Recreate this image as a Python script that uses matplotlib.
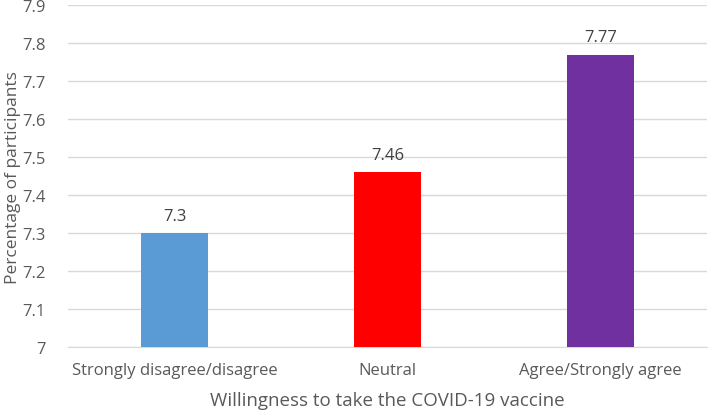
import numpy as np
from matplotlib import pyplot as plt
from matplotlib.ticker import FuncFormatter

plt.rcParams['font.family'] = ['Open Sans', 'DejaVu Sans']

categories = ['Strongly disagree/disagree', 'Neutral', 'Agree/Strongly agree']
values = [7.3, 7.46, 7.77]
labels = ['7.3', '7.46', '7.77']
colors = ['#5B9BD5', '#FF0000', '#7030A0']

fig = plt.figure(figsize=(7.09, 4.14), dpi=100)
ax = fig.add_axes([0.096, 0.159, 0.901, 0.826])

x = np.arange(len(categories))
ax.bar(x, values, width=0.315, color=colors, zorder=3)
for xi, v, lab in zip(x, values, labels):
    ax.text(xi, v + 0.025, lab, ha='center', va='bottom', fontsize=12, color='#404040')

ax.set_xlim(-0.5, 2.5)
ax.set_ylim(7, 7.9)
ax.set_yticks(np.arange(7, 7.91, 0.1))
ax.yaxis.set_major_formatter(FuncFormatter(lambda v, p: '{:g}'.format(round(v, 1))))
ax.set_xticks(x)
ax.set_xticklabels(categories)
ax.tick_params(axis='both', length=0, labelsize=12, colors='#595959')
ax.tick_params(axis='y', pad=16)
ax.tick_params(axis='x', pad=11)
ax.grid(axis='y', color='#D9D9D9', linewidth=1, zorder=0)
for s in ['top', 'right', 'left']:
    ax.spines[s].set_visible(False)
ax.spines['bottom'].set_color('#D9D9D9')

ax.set_xlabel('Willingness to take the COVID-19 vaccine', fontsize=13.5, color='#595959', labelpad=9)
ax.set_ylabel('Percentage of participants', fontsize=12.5, color='#595959', labelpad=1)

plt.savefig('out.png', dpi=100)
